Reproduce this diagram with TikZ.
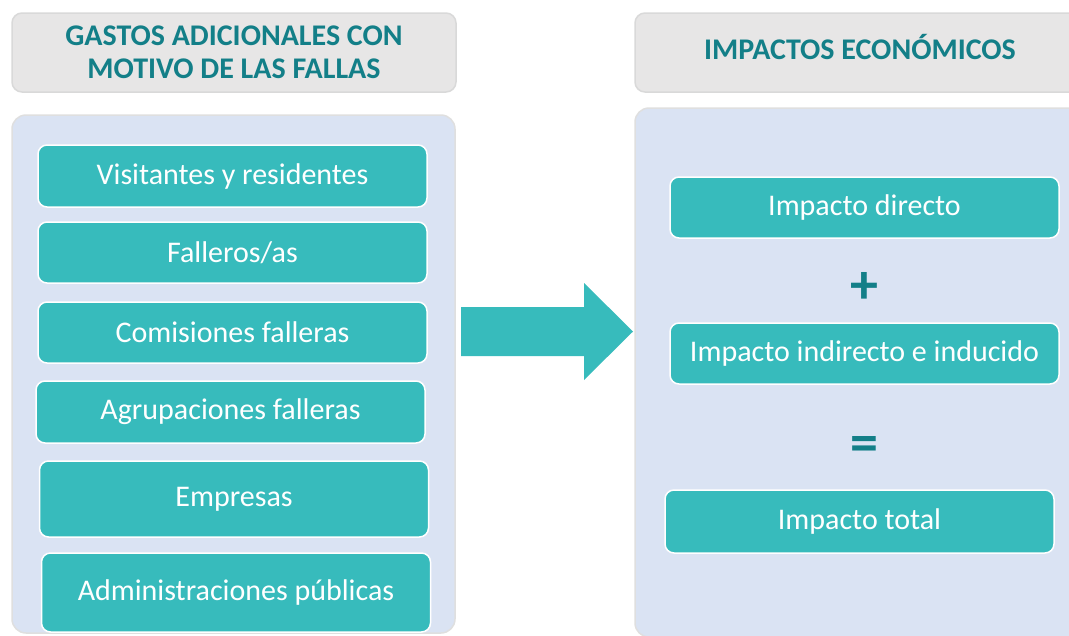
\documentclass[tikz,border=0pt]{standalone}
\usepackage{fontspec}
\setmainfont{Carlito}
\usepackage{tikz}
\usetikzlibrary{positioning}
\definecolor{turquesa}{HTML}{37BBBC}
\definecolor{panelazul}{HTML}{DAE3F3}
\definecolor{cabgris}{HTML}{E7E6E6}
\definecolor{tinta}{HTML}{137F88}
\tikzset{
	x=1pt, y=-1pt,
	cabecera/.style = {draw=gray!30, line width=1.5pt, fill=cabgris, rounded corners=10pt, minimum width=444pt, minimum height=79pt, align=center, text=tinta, font=\fontsize{30}{33}\selectfont\bfseries},
	panel/.style = {draw=gray!25, line width=1.5pt, fill=panelazul, rounded corners=14pt, minimum width=443pt},
	caja/.style = {draw=white, line width=1.5pt, fill=turquesa, rounded corners=9pt, minimum width=389pt, minimum height=61pt, text=white, font=\fontsize{30}{34}\selectfont},
	signo/.style = {text=tinta, font=\fontsize{56}{56}\selectfont\bfseries}
}

\begin{document}
\begin{tikzpicture}
	\useasboundingbox (0,0) rectangle (1069,635);
	\clip (0,0) rectangle (1069,635);
	\node (cabgastos) [cabecera] at (234,52.5) {GASTOS ADICIONALES CON\\MOTIVO DE LAS FALLAS};
	\node (cabimpactos) [cabecera, minimum width=450pt, text height=13pt, text depth=0pt] at (860,52.5) {IMPACTOS ECONÓMICOS};
	\node (gastos) [panel, minimum height=518pt] at (233.5,374) {};
	\node (impactos) [panel, minimum width=450pt, minimum height=529pt] at (860,372.5) {};
	\node (vis) [caja, minimum height=62pt] at (232.5,176) {Visitantes y residentes};
	\node (fal) [caja] at (232.5,252.5) {Falleros/as};
	\node (com) [caja] at (232.5,332.5) {Comisiones falleras};
	\node (agr) [caja, minimum height=62pt] at (230.5,412) {Agrupaciones falleras};
	\node (emp) [caja, minimum height=76pt] at (234,499) {Empresas};
	\node (adm) [caja, minimum height=79pt] at (236,592.5) {Administraciones públicas};
	\node (dir) [caja] at (864.5,207.5) {Impacto directo};
	\node (ind) [caja] at (864.5,353.5) {Impacto indirecto e inducido};
	\node (tot) [caja, minimum height=63pt] at (859.5,521.5) {Impacto total};
	\node (mas) [signo] at (864,287.5) {+};
	\node (igual) [signo] at (864,449) {=};
	\fill [turquesa] (461,307) -- (584,307) -- (584,283) -- (633,331.5)
		-- (584,380) -- (584,356) -- (461,356) -- cycle;
\end{tikzpicture}
\end{document}
